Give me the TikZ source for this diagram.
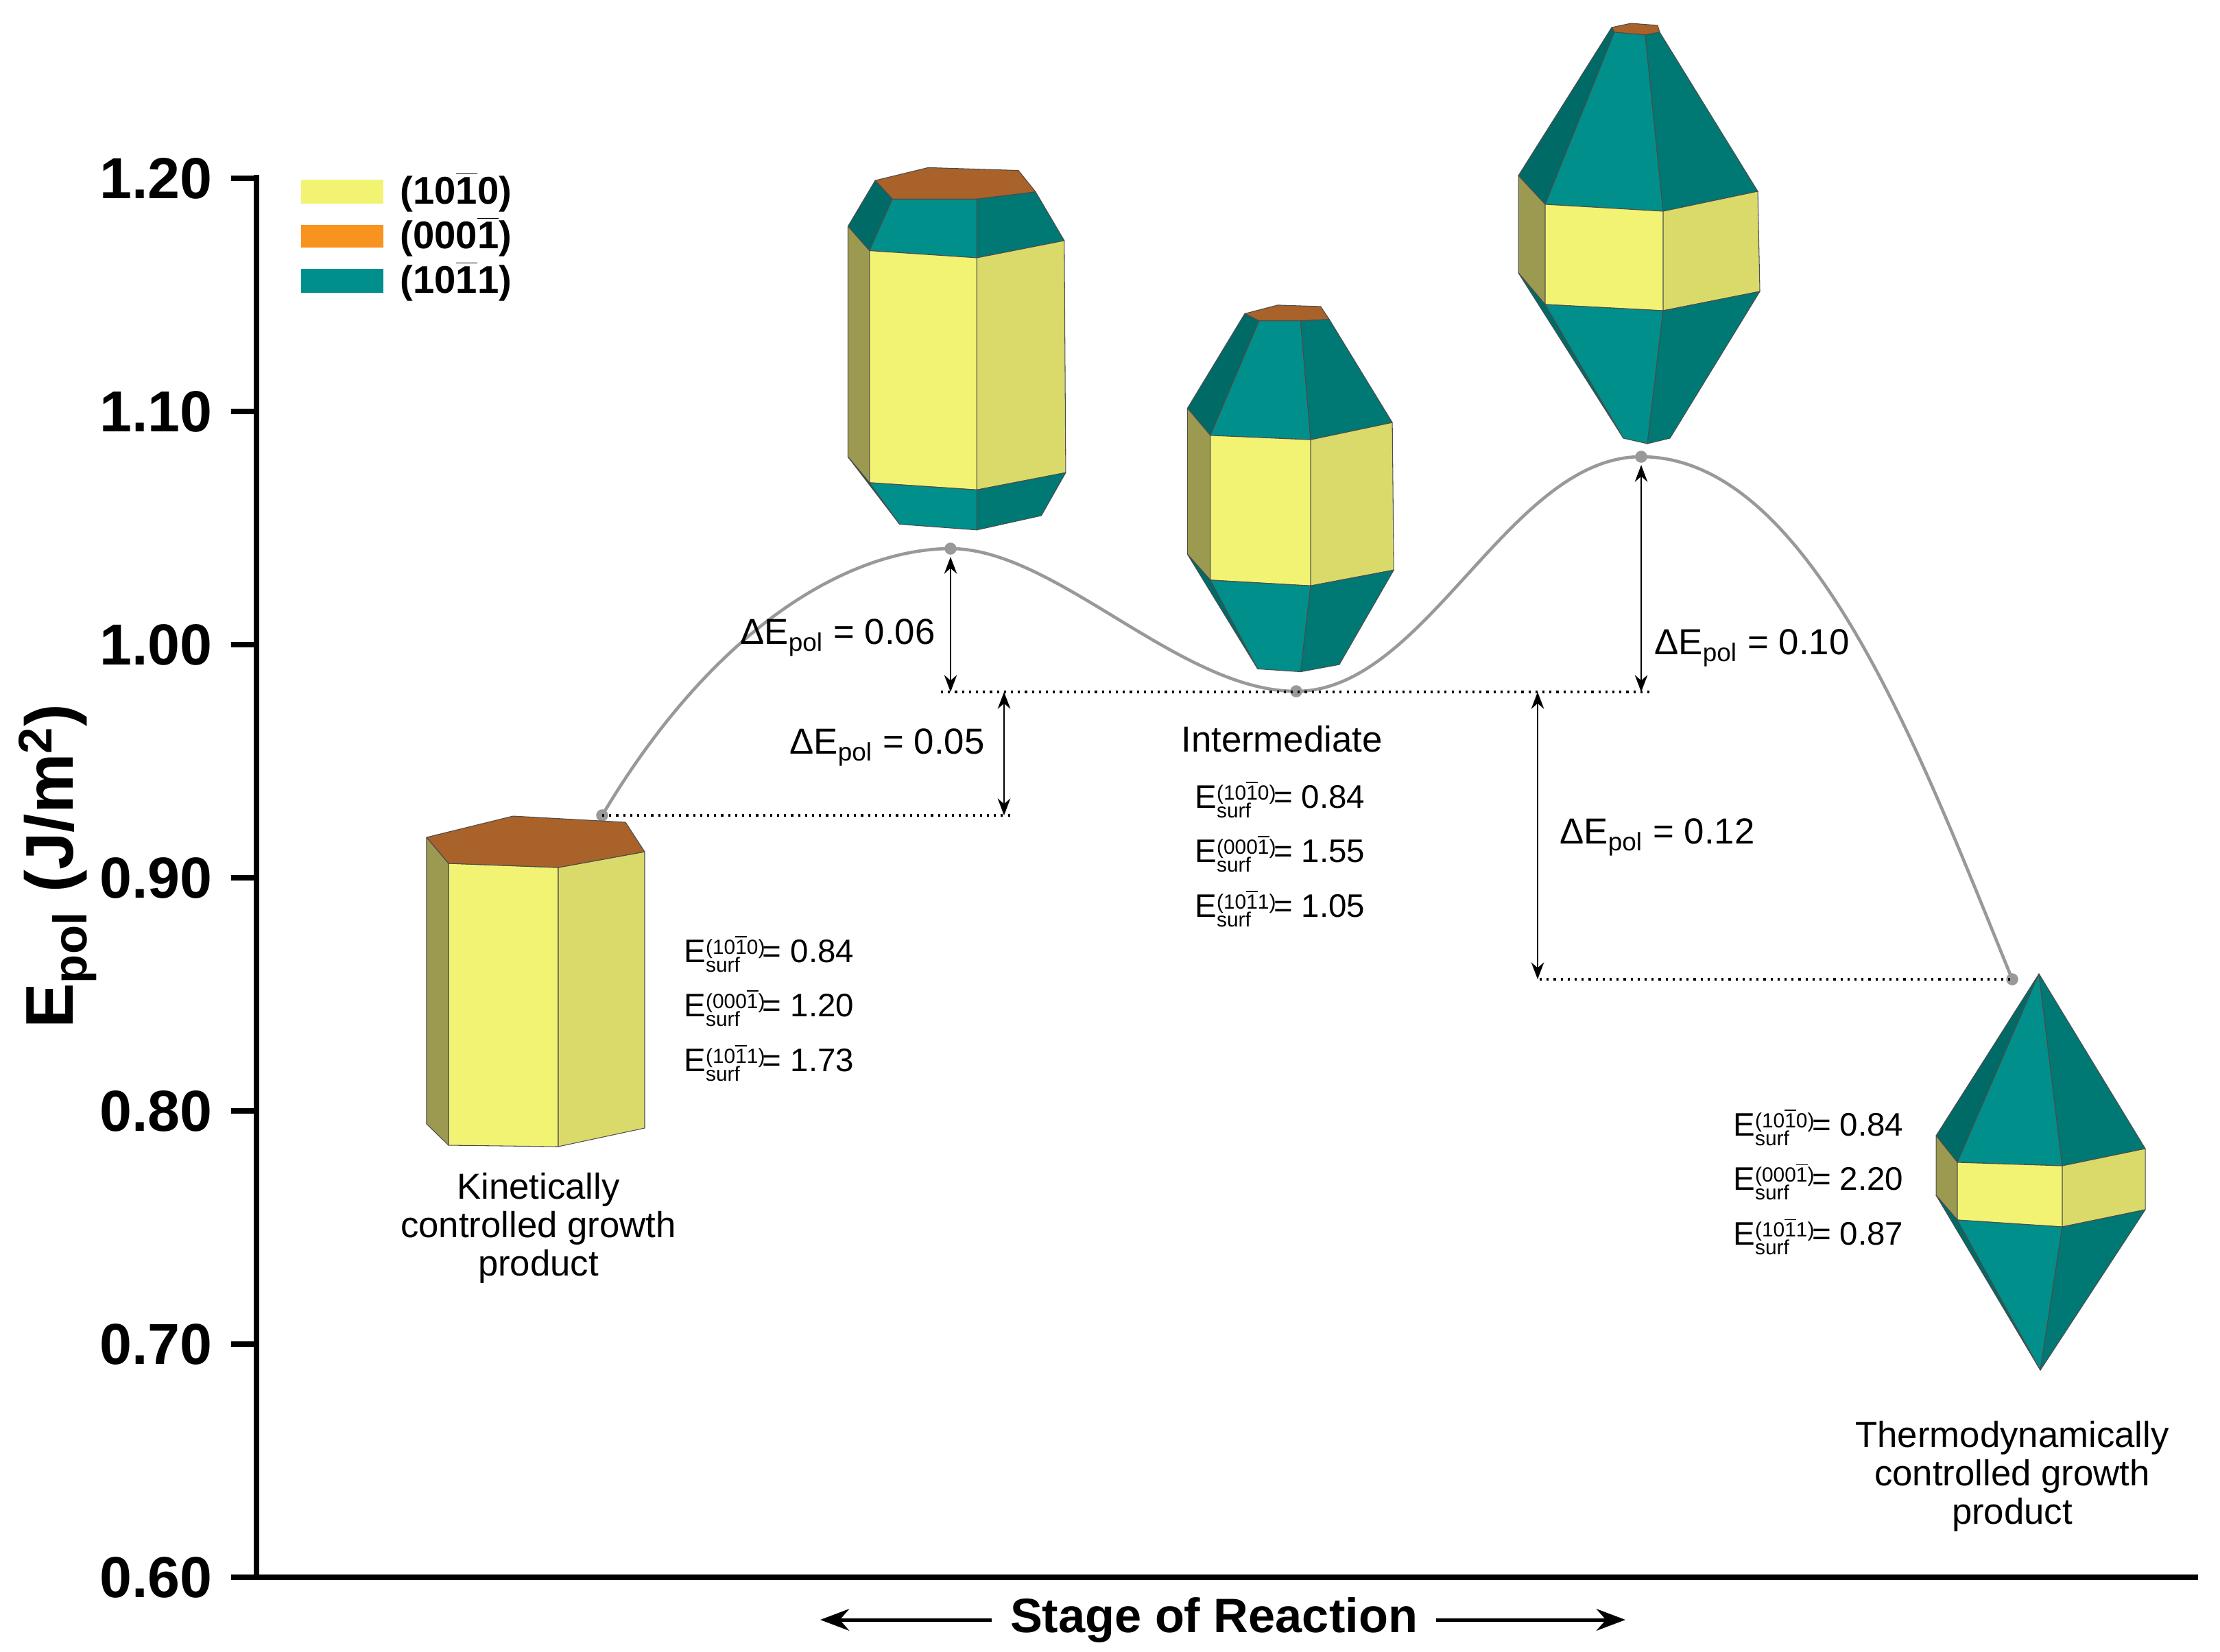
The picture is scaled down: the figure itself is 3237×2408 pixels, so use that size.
\documentclass[tikz,border=0pt]{standalone}
\usepackage{fontspec}
\setmainfont{Liberation Sans}
\usetikzlibrary{arrows.meta,calc}
\definecolor{yF}{HTML}{F2F373}\definecolor{yR}{HTML}{DADA6A}\definecolor{yL}{HTML}{9C9A50}
\definecolor{tF}{HTML}{008F8B}\definecolor{tR}{HTML}{007874}\definecolor{tL}{HTML}{006A66}
\definecolor{br}{HTML}{A8622A}\definecolor{org}{HTML}{F7931E}\definecolor{cg}{HTML}{999999}
\newcommand\ob[1]{\ensuremath{\overline{\mbox{#1}}}}
\newcommand\Es[2]{E\raisebox{-0.55ex}{\fontsize{8.5}{8.5}\selectfont\begin{tabular}[b]{@{}l@{}}(#1)\\[-1.5pt]surf\end{tabular}}\kern-1pt= #2}
\newcommand\dE[1]{ΔE\textsubscript{pol} = #1}
\tikzset{face/.style={draw=black!70,line width=0.3pt,line join=round},
 dim/.style={{Stealth[length=7pt]}-{Stealth[length=7pt]},line width=0.8pt},
 dot/.style={dotted,line width=0.9pt},
 lab/.style={font=\fontsize{15}{18}\selectfont},
 en/.style={font=\fontsize{13.5}{16}\selectfont,anchor=west},
 tick/.style={font=\bfseries\fontsize{24}{24}\selectfont,anchor=east},
 leg/.style={font=\bfseries\fontsize{16}{16}\selectfont,anchor=west},
 pt/.style={circle,fill=cg,inner sep=0pt,minimum size=5pt}}
\begin{document}
\begin{tikzpicture}[x=0.01cm,y=-0.01cm]
\useasboundingbox (0,0) rectangle (3237,2408);
% axes
\draw[line width=2.2pt] (374,255) -- (374,2300) -- (3205,2300);
\foreach \v/\t in {1.2/1.20,1.1/1.10,1.0/1.00,0.9/0.90,0.8/0.80,0.7/0.70,0.6/0.60}{
  \draw[line width=2.2pt] (337,{260+(1.2-\v)*3400}) -- (374,{260+(1.2-\v)*3400});
  \node[tick] at (322,{260+(1.2-\v)*3400}) {\t};}
\node[rotate=90,font=\bfseries\fontsize{28}{28}\selectfont] (ylab) at (84,1263) {E\textsubscript{pol} (J/m\textsuperscript{2})};
\node[font=\bfseries\fontsize{20}{20}\selectfont] (stage) at (1770,2362) {Stage of Reaction};
\coordinate (al) at (1196,2362); \coordinate (ar) at (2370,2362);
\coordinate (sl) at ($(stage.west)+(-15,0)$); \coordinate (sr) at ($(stage.east)+(15,0)$);
\draw[-{Stealth[length=12pt,width=9pt]},line width=1.4pt] (sl) -- (al);
\draw[-{Stealth[length=12pt,width=9pt]},line width=1.4pt] (sr) -- (ar);
% legend
\fill[yF] (439,262) rectangle (559,297); \node[leg] at (571,280) {(10\ob{1}0)};
\fill[org] (439,328) rectangle (559,361); \node[leg] at (571,345) {(000\ob{1})};
\fill[tF] (439,392) rectangle (559,427); \node[leg] at (571,410) {(10\ob{1}1)};
% curve
\coordinate (p1) at (878,1189); \coordinate (p2) at (1386,800); \coordinate (p3) at (1890,1008);
\coordinate (p4) at (2393,666); \coordinate (p5) at (2934,1428);
\draw[cg,line width=1.3pt] (p1) .. controls (1050,900) and (1250,800) .. (p2)
  .. controls (1540,800) and (1720,1008) .. (p3) .. controls (2080,1008) and (2200,666) .. (p4)
  .. controls (2640,666) and (2800,1100) .. (p5);
\foreach \p in {p1,p2,p3,p4,p5} \node[pt] at (\p) {};
% dotted levels
\coordinate (d1) at (1475,1189); \coordinate (d2a) at (1372,1009); \coordinate (d2b) at (2409,1009);
\coordinate (d3) at (2245,1428);
\draw[dot] (p1) -- (d1); \draw[dot] (d2a) -- (d2b); \draw[dot] (d3) -- (p5);
\coordinate (a1t) at (1386,812); \coordinate (a1b) at (1386,1009);
\coordinate (a2t) at (1464,1009); \coordinate (a2b) at (1464,1189);
\coordinate (a3t) at (2393,678); \coordinate (a3b) at (2393,1009);
\coordinate (a4t) at (2242,1009); \coordinate (a4b) at (2242,1428);
\draw[dim] (a1t) -- (a1b); \draw[dim] (a2t) -- (a2b); \draw[dim] (a3t) -- (a3b); \draw[dim] (a4t) -- (a4b);
\node[lab,anchor=east] at (1376,930) {\dE{0.06}};
\node[lab,anchor=east] at (1448,1090) {\dE{0.05}};
\node[lab,anchor=west] at (2400,945) {\dE{0.10}};
\node[lab,anchor=west] at (2262,1221) {\dE{0.12}};
% texts
\node[lab,align=center] at (785,1791) {Kinetically\\[-2pt]controlled growth\\[-2pt]product};
\node[lab] at (1869,1078) {Intermediate};
\node[lab,align=center] at (2934,2153) {Thermodynamically\\[-2pt]controlled growth\\[-2pt]product};
\foreach \x/\y/\a/\b/\c in {985/1395/0.84/1.20/1.73, 1730/1170/0.84/1.55/1.05, 2515/1648/0.84/2.20/0.87}{
 \node[en] at (\x,\y) {\Es{10\ob{1}0}{\a}};
 \node[en] at (\x,\y+79) {\Es{000\ob{1}}{\b}};
 \node[en] at (\x,\y+159) {\Es{10\ob{1}1}{\c}};}
% crystal 1
\fill[face,fill=yL] (622,1221) -- (654,1259) -- (654,1670) -- (622,1639) -- cycle;
\fill[face,fill=yF] (654,1259) -- (814,1265) -- (814,1672) -- (654,1670) -- cycle;
\fill[face,fill=yR] (814,1265) -- (940,1242) -- (940,1645) -- (814,1672) -- cycle;
\fill[face,fill=br] (622,1221) -- (748,1190) -- (912,1199) -- (940,1242) -- (814,1265) -- (654,1259) -- cycle;
\begin{scope}[x=0.02088cm,y=-0.02088cm]
% crystal 2
\fill[face,fill=br] (611,126) -- (648,117) -- (711,119) -- (723,134) -- (682,139) -- (623,139) -- cycle;
\fill[face,fill=tL] (592,158) -- (611,126) -- (623,139) -- (607,175) -- cycle;
\fill[face,fill=tF] (623,139) -- (682,139) -- (682,180) -- (607,175) -- cycle;
\fill[face,fill=tR] (682,139) -- (723,134) -- (743,168) -- (682,180) -- cycle;
\fill[face,fill=yL] (592,158) -- (607,175) -- (607,337) -- (592,319) -- cycle;
\fill[face,fill=yF] (607,175) -- (682,180) -- (682,342) -- (607,337) -- cycle;
\fill[face,fill=yR] (682,180) -- (743,168) -- (744,330) -- (682,342) -- cycle;
\fill[face,fill=tL] (592,319) -- (607,337) -- (628,366) -- cycle;
\fill[face,fill=tF] (607,337) -- (682,342) -- (682,370) -- (628,366) -- cycle;
\fill[face,fill=tR] (682,342) -- (744,330) -- (727,360) -- (682,370) -- cycle;
% crystal 3
\fill[face,fill=br] (869,219) -- (892,213) -- (922,214) -- (928,223) -- (908,224) -- (879,224) -- cycle;
\fill[face,fill=tL] (829,285) -- (869,219) -- (879,224) -- (845,304) -- cycle;
\fill[face,fill=tF] (879,224) -- (908,224) -- (915,307) -- (845,304) -- cycle;
\fill[face,fill=tR] (908,224) -- (928,223) -- (972,295) -- (915,307) -- cycle;
\fill[face,fill=yL] (829,285) -- (845,304) -- (845,405) -- (829,387) -- cycle;
\fill[face,fill=yF] (845,304) -- (915,307) -- (915,409) -- (845,405) -- cycle;
\fill[face,fill=yR] (915,307) -- (972,295) -- (973,398) -- (915,409) -- cycle;
\fill[face,fill=tL] (829,387) -- (845,405) -- (878,467) -- cycle;
\fill[face,fill=tF] (845,405) -- (915,409) -- (908,469) -- (878,467) -- cycle;
\fill[face,fill=tR] (915,409) -- (973,398) -- (935,464) -- (908,469) -- cycle;
\end{scope}
% crystal 4
\fill[face,fill=br] (2350,40) -- (2378,34) -- (2417,37) -- (2420,47) -- (2399,51) -- (2354,47) -- cycle;
\fill[face,fill=tL] (2214,256) -- (2350,40) -- (2354,47) -- (2253,298) -- cycle;
\fill[face,fill=tF] (2354,47) -- (2399,51) -- (2425,308) -- (2253,298) -- cycle;
\fill[face,fill=tR] (2399,51) -- (2420,47) -- (2563,279) -- (2425,308) -- cycle;
\fill[face,fill=yL] (2214,256) -- (2253,298) -- (2253,444) -- (2214,398) -- cycle;
\fill[face,fill=yF] (2253,298) -- (2425,308) -- (2425,453) -- (2253,444) -- cycle;
\fill[face,fill=yR] (2425,308) -- (2563,279) -- (2566,425) -- (2425,453) -- cycle;
\fill[face,fill=tL] (2214,398) -- (2253,444) -- (2367,639) -- cycle;
\fill[face,fill=tF] (2253,444) -- (2425,453) -- (2402,647) -- (2367,639) -- cycle;
\fill[face,fill=tR] (2425,453) -- (2566,425) -- (2435,639) -- (2402,647) -- cycle;
% crystal 5
\fill[face,fill=tL] (2823,1656) -- (2973,1420) -- (2854,1695) -- cycle;
\fill[face,fill=tF] (2854,1695) -- (2973,1420) -- (3007,1700) -- cycle;
\fill[face,fill=tR] (3007,1700) -- (2973,1420) -- (3128,1675) -- cycle;
\fill[face,fill=yL] (2823,1656) -- (2854,1695) -- (2854,1779) -- (2823,1743) -- cycle;
\fill[face,fill=yF] (2854,1695) -- (3007,1700) -- (3007,1789) -- (2854,1779) -- cycle;
\fill[face,fill=yR] (3007,1700) -- (3128,1675) -- (3128,1764) -- (3007,1789) -- cycle;
\fill[face,fill=tL] (2823,1743) -- (2854,1779) -- (2975,1998) -- cycle;
\fill[face,fill=tF] (2854,1779) -- (3007,1789) -- (2975,1998) -- cycle;
\fill[face,fill=tR] (3007,1789) -- (3128,1764) -- (2975,1998) -- cycle;
\end{tikzpicture}
\end{document}
